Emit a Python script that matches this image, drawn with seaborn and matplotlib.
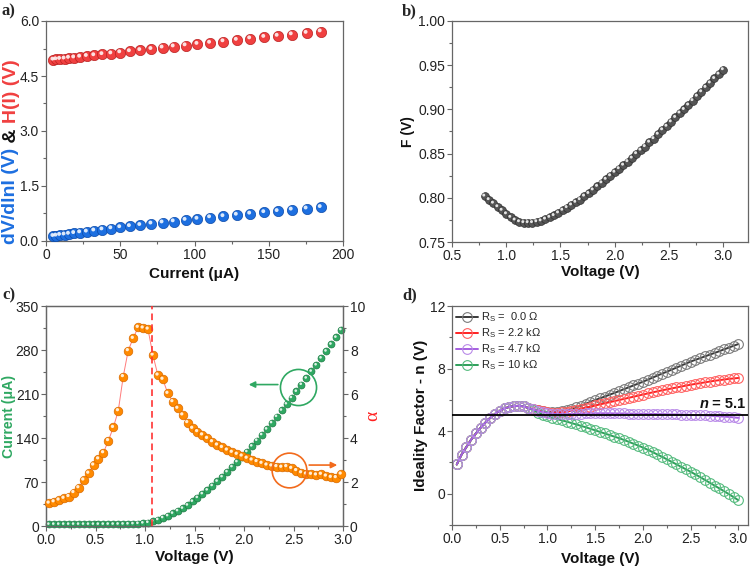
import numpy as np
import pandas as pd
import matplotlib
matplotlib.use("Agg")
import matplotlib.pyplot as plt
import seaborn as sns
from matplotlib.transforms import offset_copy
from matplotlib.ticker import MultipleLocator, AutoMinorLocator, FormatStrFormatter

sns.set_style("ticks")
plt.rcParams['font.family'] = ['Liberation Sans', 'DejaVu Sans']
plt.rcParams['mathtext.fontset'] = 'custom'
plt.rcParams['mathtext.rm'] = 'Liberation Sans'
plt.rcParams['mathtext.it'] = 'Liberation Sans:italic'
plt.rcParams['mathtext.bf'] = 'Liberation Sans:bold'

# ---- panel a: Cheung functions ----
current_a = [5, 7, 9.5, 12.5, 15.5, 19, 23, 27.5, 32.5, 38, 44, 50, 56.5, 63.5, 71, 78.5,
             86, 94, 102, 110.5, 119.5, 128.5, 137.5, 147, 156, 165.5, 175.5, 185]
H_of_I = [4.94, 4.95, 4.96, 4.97, 4.99, 5.00, 5.02, 5.04, 5.06, 5.09, 5.11, 5.14, 5.17, 5.20,
          5.23, 5.27, 5.30, 5.33, 5.37, 5.40, 5.44, 5.48, 5.52, 5.56, 5.59, 5.63, 5.67, 5.71]
dVdlnI = [0.13, 0.14, 0.16, 0.17, 0.19, 0.21, 0.23, 0.25, 0.28, 0.31, 0.34, 0.37, 0.40, 0.43,
          0.47, 0.50, 0.53, 0.57, 0.60, 0.64, 0.67, 0.71, 0.74, 0.78, 0.81, 0.85, 0.88, 0.92]

# ---- panel b: Norde function ----
volt_b = [0.80, 0.84, 0.88, 0.92, 0.96, 1.00, 1.04, 1.08, 1.12, 1.16, 1.20, 1.24, 1.28, 1.32,
          1.36, 1.40, 1.44, 1.48, 1.52, 1.56, 1.60, 1.64, 1.68, 1.72, 1.76, 1.80, 1.84, 1.88,
          1.92, 1.96, 2.00, 2.04, 2.08, 2.12, 2.16, 2.20, 2.24, 2.28, 2.32, 2.36, 2.40, 2.44,
          2.48, 2.52, 2.56, 2.60, 2.64, 2.68, 2.72, 2.76, 2.80, 2.84, 2.88, 2.92, 2.96, 3.00]
F_norde = [0.802, 0.798, 0.794, 0.790, 0.786, 0.782, 0.778, 0.775, 0.773, 0.772, 0.772, 0.772,
           0.773, 0.774, 0.776, 0.778, 0.780, 0.783, 0.786, 0.789, 0.792, 0.795, 0.798, 0.802,
           0.805, 0.809, 0.813, 0.817, 0.821, 0.825, 0.829, 0.833, 0.837, 0.841, 0.845, 0.850,
           0.854, 0.858, 0.863, 0.867, 0.872, 0.877, 0.881, 0.886, 0.891, 0.896, 0.900, 0.905,
           0.910, 0.915, 0.920, 0.925, 0.930, 0.935, 0.940, 0.945]

# ---- panel c: I-V and alpha ----
volt_c = [0.03, 0.08, 0.13, 0.18, 0.23, 0.28, 0.33, 0.38, 0.43, 0.48, 0.53, 0.58, 0.63, 0.68,
          0.73, 0.78, 0.83, 0.88, 0.93, 0.98, 1.03, 1.08, 1.13, 1.18, 1.23, 1.28, 1.33, 1.38,
          1.43, 1.48, 1.53, 1.58, 1.63, 1.68, 1.73, 1.78, 1.83, 1.88, 1.93, 1.98, 2.03, 2.08,
          2.13, 2.18, 2.23, 2.28, 2.33, 2.38, 2.43, 2.48, 2.53, 2.58, 2.63, 2.68, 2.73, 2.78,
          2.83, 2.88, 2.93, 2.98]
current_c = [2.5, 2.5, 2.5, 2.5, 2.5, 2.5, 2.5, 2.5, 2.5, 2.5, 2.5, 2.5, 2.6, 2.6, 2.7, 2.8,
             3.0, 3.3, 3.8, 4.5, 5.5, 7.5, 10, 13, 16, 20, 24, 28, 33, 39, 45, 51, 57, 64, 71,
             78, 86, 94, 102, 110, 118, 127, 136, 145, 154, 164, 174, 184, 194, 204, 214, 225,
             235, 246, 256, 267, 278, 289, 300, 312]
alpha_c = [1.04, 1.10, 1.18, 1.26, 1.34, 1.52, 1.74, 2.09, 2.40, 2.77, 3.05, 3.33, 3.88, 4.48,
           5.24, 6.79, 7.97, 8.53, 9.03, 9.00, 8.95, 7.77, 6.86, 6.67, 6.03, 5.65, 5.35, 5.05,
           4.70, 4.44, 4.29, 4.14, 3.98, 3.83, 3.68, 3.57, 3.45, 3.35, 3.26, 3.18, 3.08, 3.00,
           2.93, 2.85, 2.77, 2.73, 2.70, 2.67, 2.70, 2.62, 2.52, 2.42, 2.36, 2.35, 2.32, 2.35,
           2.27, 2.21, 2.20, 2.36]
v_threshold = 1.07

# ---- panel d: ideality factor for different series resistances ----
volt_d = [0.05, 0.10, 0.15, 0.20, 0.25, 0.30, 0.35, 0.40, 0.45, 0.50, 0.55, 0.60, 0.65, 0.70,
          0.75, 0.80, 0.85, 0.90, 0.95, 1.00, 1.05, 1.10, 1.15, 1.20, 1.25, 1.30, 1.35, 1.40,
          1.45, 1.50, 1.55, 1.60, 1.65, 1.70, 1.75, 1.80, 1.85, 1.90, 1.95, 2.00, 2.05, 2.10,
          2.15, 2.20, 2.25, 2.30, 2.35, 2.40, 2.45, 2.50, 2.55, 2.60, 2.65, 2.70, 2.75, 2.80,
          2.85, 2.90, 2.95, 3.00]
n_low = [1.87, 2.50, 2.98, 3.45, 3.85, 4.22, 4.55, 4.85, 5.10, 5.30, 5.45, 5.55, 5.60, 5.62,
         5.58, 5.48]
n_rs0 = n_low + [5.40, 5.32, 5.26, 5.22, 5.21, 5.23, 5.27, 5.33, 5.42, 5.52, 5.63, 5.75, 5.87,
                 5.99, 6.10, 6.21, 6.33, 6.44, 6.56, 6.68, 6.80, 6.92, 7.04, 7.16, 7.29, 7.42,
                 7.55, 7.68, 7.80, 7.93, 8.06, 8.19, 8.32, 8.45, 8.56, 8.67, 8.78, 8.89, 9.00,
                 9.11, 9.23, 9.34, 9.46, 9.57]
n_rs22 = n_low + [5.40, 5.32, 5.26, 5.21, 5.19, 5.19, 5.21, 5.25, 5.30, 5.36, 5.43, 5.50, 5.57,
                  5.64, 5.71, 5.78, 5.85, 5.92, 5.99, 6.06, 6.13, 6.20, 6.27, 6.34, 6.41, 6.48,
                  6.54, 6.61, 6.67, 6.73, 6.79, 6.85, 6.91, 6.97, 7.02, 7.07, 7.12, 7.17, 7.22,
                  7.26, 7.30, 7.34, 7.37, 7.40]
n_rs47 = n_low + [5.39, 5.30, 5.22, 5.16, 5.12, 5.10, 5.09, 5.09, 5.10, 5.11, 5.12, 5.13, 5.13,
                  5.14, 5.14, 5.14, 5.14, 5.13, 5.13, 5.13, 5.12, 5.12, 5.11, 5.11, 5.10, 5.10,
                  5.09, 5.09, 5.08, 5.07, 5.07, 5.06, 5.05, 5.04, 5.03, 5.02, 5.01, 4.99, 4.97,
                  4.95, 4.93, 4.91, 4.88, 4.85]
n_rs10 = n_low + [5.33, 5.18, 5.05, 4.95, 4.86, 4.77, 4.69, 4.61, 4.52, 4.43, 4.34, 4.25, 4.15,
                  4.05, 3.95, 3.85, 3.75, 3.65, 3.55, 3.44, 3.32, 3.20, 3.08, 2.95, 2.81, 2.66,
                  2.51, 2.36, 2.20, 2.04, 1.88, 1.72, 1.56, 1.40, 1.23, 1.06, 0.88, 0.70, 0.52,
                  0.34, 0.16, -0.03, -0.22, -0.42]
n_mean = 5.05
rs_labels = ["R$_\\mathrm{S}$ =  0.0 Ω", "R$_\\mathrm{S}$ = 2.2 kΩ",
             "R$_\\mathrm{S}$ = 4.7 kΩ", "R$_\\mathrm{S}$ = 10 kΩ"]

W, H = 750, 569
fig = plt.figure(figsize=(7.5, 5.69), dpi=100)


def box(l, r, t, b):
    return [l / W, 1 - b / H, (r - l) / W, (b - t) / H]


def style(ax, xmaj, ymaj):
    for s in ax.spines.values():
        s.set_color('#666666')
        s.set_linewidth(0.9)
    ax.xaxis.set_major_locator(MultipleLocator(xmaj))
    ax.xaxis.set_minor_locator(AutoMinorLocator(2))
    ax.yaxis.set_major_locator(MultipleLocator(ymaj))
    ax.yaxis.set_minor_locator(AutoMinorLocator(2))
    ax.tick_params(which='both', direction='out', color='#666666', width=0.8,
                   labelsize=10, labelcolor='#222222', pad=1.5)
    ax.tick_params(which='major', length=3.5)
    ax.tick_params(which='minor', length=2)


def balls(ax, x, y, color, edge, size, z):
    # shaded sphere look: coloured disc plus a small white highlight
    sns.scatterplot(x=x, y=y, ax=ax, s=size ** 2, color=color, edgecolor=edge,
                    linewidth=0.5, zorder=z, clip_on=False, legend=False)
    hl = offset_copy(ax.transData, fig=ax.figure, x=-size * 0.1, y=size * 0.12, units='points')
    sns.scatterplot(x=x, y=y, ax=ax, s=(size * 0.38) ** 2, color='white', edgecolor='none',
                    alpha=0.85, transform=hl, zorder=z + 0.5, clip_on=False, legend=False)


lab = dict(fontsize=11, fontweight='bold', color='#111111')

# ---------------- a ----------------
axa = fig.add_axes(box(46, 343, 21, 241))
balls(axa, current_a, H_of_I, '#f04040', '#b82020', 7.4, 3)
balls(axa, current_a, dVdlnI, '#1d6fe0', '#0c4aa8', 7.4, 5)
axa.set_xlim(0, 200)
axa.set_ylim(0, 6.0)
style(axa, 50, 1.5)
axa.yaxis.set_major_formatter(FormatStrFormatter('%.1f'))
axa.set_xlabel("Current (μA)", **lab)
axa.xaxis.set_label_coords(0.5, -0.118)
axa.set_ylabel("")
t1 = fig.text(11 / W, 1 - 244 / H, "dV/dlnI (V)", rotation=90, ha='center', va='bottom',
              color='#1d6fe0', fontsize=14, fontweight='bold')
t2 = axa.annotate(" & ", xy=(0.5, 1), xycoords=t1, rotation=90, ha='center', va='bottom',
                  color='#111111', fontsize=14, fontweight='bold')
axa.annotate("H(I) (V)", xy=(0.5, 1), xycoords=t2, rotation=90, ha='center', va='bottom',
             color='#f04040', fontsize=14, fontweight='bold')

# ---------------- b ----------------
axb = fig.add_axes(box(452, 748, 21, 242))
balls(axb, volt_b, F_norde, '#555555', '#2e2e2e', 5.6, 3)
axb.set_xlim(0.5, 3.23)
axb.set_ylim(0.75, 1.00)
style(axb, 0.5, 0.05)
axb.set_xlabel("Voltage (V)", **lab)
axb.xaxis.set_label_coords(0.5, -0.105)
axb.set_ylabel("F (V)", fontsize=10, fontweight='bold', color='#111111')
axb.yaxis.set_label_coords(-0.125, 0.5)

# ---------------- c ----------------
axc = fig.add_axes(box(46, 343, 306, 526))
balls(axc, volt_c, current_c, '#2fa862', '#1d7a44', 5.0, 3)
axc.set_xlim(0, 3.0)
axc.set_ylim(0, 350)
style(axc, 0.5, 70)
axc.set_xlabel("Voltage (V)", **lab)
axc.xaxis.set_label_coords(0.5, -0.11)
axc.set_ylabel("Current (μA)", fontsize=10.2, fontweight='bold', color='#2fa862')
axc.yaxis.set_label_coords(-0.1, 0.5)
axc.plot(2.55, 221, 'o', ms=26, mfc='none', mec='#2fa862', mew=1.2, zorder=6)
axc.annotate("", xy=(2.02, 225), xytext=(2.37, 225),
             arrowprops=dict(arrowstyle='-|>', color='#2fa862', lw=1.2, mutation_scale=9))

axc2 = axc.twinx()
sns.lineplot(x=volt_c, y=alpha_c, ax=axc2, color='#ff7b7b', lw=0.7, zorder=2)
balls(axc2, volt_c, alpha_c, '#ff8a00', '#d96a00', 6.2, 3)
axc2.axvline(v_threshold, color='#ff3333', lw=1.2, ls=(0, (4, 2.5)), zorder=10)
axc2.set_ylim(0, 10)
axc2.set_xlim(0, 3.0)
style(axc2, 0.5, 2)
axc2.set_ylabel("α", fontsize=14, color='#ff2020', family='Liberation Serif')
axc2.yaxis.set_label_coords(1.072, 0.5)
axc2.plot(2.45, 2.53, 'o', ms=25, mfc='none', mec='#f26b1d', mew=1.2, zorder=6)
axc2.annotate("", xy=(2.97, 2.77), xytext=(2.63, 2.77),
              arrowprops=dict(arrowstyle='-|>', color='#f26b1d', lw=1.2, mutation_scale=9))

# ---------------- d ----------------
axd = fig.add_axes(box(452, 748, 306, 525))
series_d = [(n_rs0, '#3a3a3a', '#7a7a7a', rs_labels[0]),
            (n_rs22, '#ff2222', '#ff6060', rs_labels[1]),
            (n_rs10, '#2e9f5a', '#55bb7e', rs_labels[3]),
            (n_rs47, '#a55fe0', '#b98ae8', rs_labels[2])]
for vals, lc, mc, lbl in series_d:
    sns.lineplot(x=volt_d, y=vals, ax=axd, color=lc, lw=1.4, marker='o', markersize=7,
                 markerfacecolor='none', markeredgecolor=mc, markeredgewidth=0.8, label=lbl,
                 clip_on=False)
axd.axhline(n_mean, color='black', lw=1.3, zorder=5)
t_eq = axd.text(3.075, n_mean + 0.25, " = 5.1", ha='right', va='bottom', fontweight='bold',
                fontsize=10.5, color='#111111')
axd.annotate("n", xy=(0, 0), xycoords=t_eq, ha='right', va='bottom', style='italic',
             fontweight='bold', fontsize=10.5, color='#111111')
axd.set_xlim(0, 3.1)
axd.set_ylim(-2, 12)
style(axd, 0.5, 4)
axd.set_xlabel("Voltage (V)", **lab)
axd.xaxis.set_label_coords(0.5, -0.125)
axd.set_ylabel("Ideality Factor - n (V)", fontsize=11, fontweight='bold', color='#111111')
axd.yaxis.set_label_coords(-0.08, 0.5)
h, l = axd.get_legend_handles_labels()
order = [0, 1, 3, 2]
axd.legend([h[i] for i in order], [l[i] for i in order], loc='upper left',
           bbox_to_anchor=(-0.01, 1.01), frameon=False, fontsize=8, handlelength=2.0,
           handletextpad=0.3, labelspacing=0.2, borderaxespad=0.2)

# panel letters
for txt, x, y in [("a)", 2, 3), ("b)", 402, 3), ("c)", 2, 287), ("d)", 402, 287)]:
    fig.text(x / W, 1 - y / H, txt, fontsize=12, fontweight='bold',
             family='Liberation Serif', va='top', ha='left')

fig.savefig("out.png", dpi=100)
